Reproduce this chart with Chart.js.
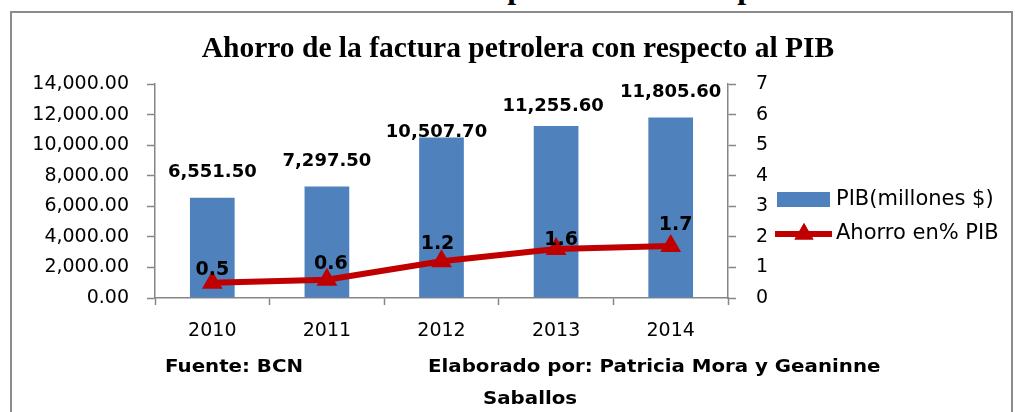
<!DOCTYPE html>
<html>
<head>
<meta charset="utf-8">
<script src="https://cdn.jsdelivr.net/npm/chart.js@4.4.1/dist/chart.umd.min.js"></script>
<style>
  body { margin: 0; background: #fff; width: 1015px; height: 412px; overflow: hidden; position: relative; }
  #frame { position: absolute; left: 10px; top: 11px; width: 999px; height: 430px; border: 2px solid #8c8c8c; }
  #chart { position: absolute; left: 0; top: 0; }
  .serif { position: absolute; font-family: "Liberation Serif", serif; font-weight: bold; white-space: nowrap; color: #000; }
  #title { left: 0; width: 1036px; text-align: center; top: 33px; font-size: 29.5px; line-height: 29.5px; }
  .foot { position: absolute; font-family: "DejaVu Sans", sans-serif; font-weight: bold; font-size: 18px; line-height: 18px; white-space: nowrap; color: #000; transform: scaleX(1.1); transform-origin: left center; }
</style>
</head>
<body>
<div id="frame"></div>
<div id="topcut" class="serif">Ahorro de la factura petrolera con respecto al PIB</div>
<canvas id="chart" width="1015" height="412"></canvas>
<div id="title" class="serif">Ahorro de la factura petrolera con respecto al PIB</div>
<div class="foot" style="left:165px; top:357px;">Fuente: BCN</div>
<div class="foot" style="left:428px; top:357px;">Elaborado por: Patricia Mora y Geaninne</div>
<div class="foot" style="left:483px; top:389px;">Saballos</div>
<script>
  // Data
  const years = ['2010', '2011', '2012', '2013', '2014'];
  const pibValues = [6551.5, 7297.5, 10507.7, 11255.6, 11805.6];
  const ahorroValues = [0.5, 0.6, 1.2, 1.6, 1.7];
  const pibLabel = 'PIB(millones $)';
  const ahorroLabel = 'Ahorro en% PIB';
  const pibMax = 14000, pibStep = 2000;
  const ahorroMax = 7, ahorroStep = 1;

  const BLUE = '#4F81BD';
  const RED = '#C00000';
  const AXIS = '#868686';
  const SANS = '"DejaVu Sans", sans-serif';

  // top heading cut off by the page edge: only the "p" descenders show
  (function placeTopCut() {
    const el = document.getElementById('topcut');
    const ctx = document.createElement('canvas').getContext('2d');
    const ref = 30;
    ctx.font = 'bold ' + ref + 'px "Liberation Serif"';
    const w1 = ctx.measureText('Ahorro de la factura ').width;
    const w2 = ctx.measureText('Ahorro de la factura petrolera con res').width;
    const size = ref * 230 / (w2 - w1);
    const k = size / ref;
    el.style.fontSize = size + 'px';
    el.style.lineHeight = size + 'px';
    el.style.left = (513 - w1 * k - 0.17 * size) + 'px';
    el.style.top = (-2 - 0.8375 * size) + 'px';
  })();

  // value labels above bars and points
  const valueLabels = {
    id: 'valueLabels',
    afterDatasetsDraw(chart, args, opts) {
      const ctx = chart.ctx;
      ctx.save();
      ctx.fillStyle = '#000';
      ctx.textAlign = 'center';
      ctx.textBaseline = 'middle';
      chart.data.datasets.forEach((ds, i) => {
        const meta = chart.getDatasetMeta(i);
        const nudge = opts.nudge[ds.type];
        ctx.font = 'bold ' + (ds.type === 'bar' ? 18 : 19) + 'px ' + SANS;
        meta.data.forEach((el, j) => {
          const v = ds.data[j];
          const txt = ds.type === 'bar'
            ? v.toLocaleString('en-US', { minimumFractionDigits: 2, maximumFractionDigits: 2 })
            : v.toFixed(1);
          ctx.fillText(txt, el.x + nudge[j][0], el.y + nudge[j][1]);
        });
      });
      ctx.restore();
    }
  };

  // legend drawn to the right of the secondary axis
  const sideLegend = {
    id: 'sideLegend',
    afterDraw(chart, args, opts) {
      const ctx = chart.ctx;
      const bar = chart.data.datasets.find(d => d.type === 'bar');
      const line = chart.data.datasets.find(d => d.type === 'line');
      ctx.save();
      ctx.font = '21px ' + SANS;
      ctx.textBaseline = 'middle';
      ctx.fillStyle = bar.backgroundColor;
      ctx.fillRect(opts.x, opts.y1 - 8, 53, 15);
      ctx.fillStyle = '#000';
      ctx.fillText(bar.label, opts.textX, opts.y1);

      ctx.strokeStyle = line.borderColor;
      ctx.lineWidth = 6;
      ctx.beginPath();
      ctx.moveTo(opts.x - 2, opts.y2);
      ctx.lineTo(opts.x + 55, opts.y2);
      ctx.stroke();
      ctx.fillStyle = line.pointBackgroundColor;
      Chart.helpers.drawPoint(ctx, { pointStyle: 'triangle', radius: 11, rotation: 0 }, opts.x + 27, opts.y2);
      ctx.fill();
      ctx.fillStyle = '#000';
      ctx.fillText(line.label, opts.textX, opts.y2);
      ctx.restore();
    }
  };

  const tickFont = { family: SANS, size: 19 };

  new Chart(document.getElementById('chart'), {
    data: {
      labels: years,
      datasets: [
        {
          type: 'line',
          label: ahorroLabel,
          data: ahorroValues,
          yAxisID: 'y1',
          order: 0,
          borderColor: RED,
          borderWidth: 6,
          pointStyle: 'triangle',
          pointRadius: 12,
          pointBackgroundColor: RED,
          pointBorderColor: RED,
          pointBorderWidth: 0,
          tension: 0
        },
        {
          type: 'bar',
          label: pibLabel,
          data: pibValues,
          yAxisID: 'y',
          order: 1,
          backgroundColor: BLUE,
          categoryPercentage: 1,
          barPercentage: 0.39
        }
      ]
    },
    options: {
      responsive: false,
      animation: false,
      layout: { padding: { top: 84, left: 0, right: 0, bottom: 0 } },
      plugins: {
        legend: { display: false },
        tooltip: { enabled: false },
        valueLabels: {
          nudge: {
            bar: [[0, -26], [0, -25], [-5, -5], [-3, -20], [0, -25]],
            line: [[0, -13], [4, -16], [-4, -17], [5, -9], [5, -21]]
          }
        },
        sideLegend: { x: 777, textX: 836, y1: 200, y2: 234 }
      },
      scales: {
        x: {
          offset: true,
          grid: { display: true, offset: true, drawOnChartArea: false, drawTicks: true, tickLength: 7, tickColor: AXIS, tickWidth: 1.5 },
          border: { display: true, color: AXIS, width: 1.5 },
          ticks: { color: '#000', font: tickFont, padding: 15 },
          afterFit(scale) { scale.height = 412 - 298; }
        },
        y: {
          position: 'left',
          min: 0,
          max: pibMax,
          grid: { display: true, drawOnChartArea: false, drawTicks: true, tickLength: 8, tickColor: AXIS, tickWidth: 1.5 },
          border: { display: true, color: AXIS, width: 1.5 },
          ticks: {
            stepSize: pibStep,
            color: '#000',
            font: tickFont,
            padding: 18,
            callback: v => v.toLocaleString('en-US', { minimumFractionDigits: 2, maximumFractionDigits: 2 })
          },
          afterFit(scale) { scale.width = 155; }
        },
        y1: {
          position: 'right',
          min: 0,
          max: ahorroMax,
          grid: { display: true, drawOnChartArea: false, drawTicks: true, tickLength: 8, tickColor: AXIS, tickWidth: 1.5 },
          border: { display: true, color: AXIS, width: 1.5 },
          ticks: { stepSize: ahorroStep, color: '#000', font: tickFont, padding: 20 },
          afterFit(scale) { scale.width = 1015 - 728; }
        }
      }
    },
    plugins: [valueLabels, sideLegend]
  });
</script>
</body>
</html>
